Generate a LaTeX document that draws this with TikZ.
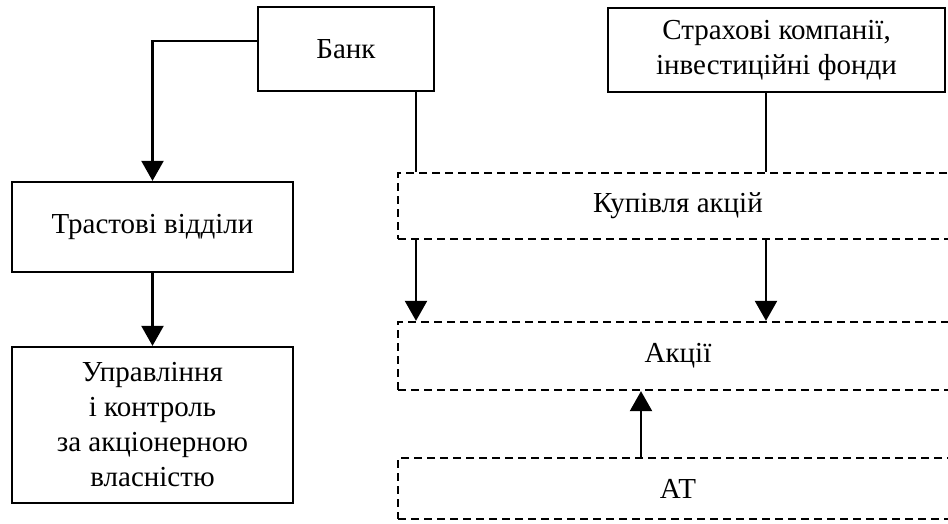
\documentclass[tikz,border=0pt]{standalone}
\usepackage{fontspec}
\setmainfont{Liberation Serif}
\usetikzlibrary{arrows.meta}
\begin{document}
\begin{tikzpicture}[x=1pt,y=-1pt,
  box/.style={draw, line width=2.3pt, rectangle, inner sep=0pt, align=center, font=\fontsize{29}{35}\selectfont},
  dbox/.style={box, dash pattern=on 8pt off 5pt},
  arr/.style={line width=2.3pt, -{Triangle[width=22pt,length=20pt]}},
  ln/.style={line width=2.3pt}]
\useasboundingbox (0,0) rectangle (948,523);
\node[box, minimum width=176pt, minimum height=84pt] (bank) at (346,49) {Банк};
\node[box, minimum width=337pt, minimum height=84pt] (ins) at (776.5,50) {Страхові компанії,\\інвестиційні фонди};
\node[box, minimum width=281pt, minimum height=90pt] (trust) at (152.5,227) {Трастові відділи};
\node[box, minimum width=281pt, minimum height=156pt] (upr) at (152.5,425) {Управління\\і контроль\\за акціонерною\\власністю};
\node[dbox, minimum width=560pt, minimum height=66pt] (kup) at (678,206) {Купівля акцій};
\node[dbox, minimum width=560pt, minimum height=68pt] (akc) at (678,356) {Акції};
\node[dbox, minimum width=560pt, minimum height=61pt] (at) at (678,488.5) {АТ};
\coordinate (xa) at (416,0);
\coordinate (xb) at (766,0);
\coordinate (xc) at (641,0);
\draw[arr] ([yshift=8pt]bank.west) -| (trust.north);
\draw[arr] (trust.south) -- (upr.north);
\draw[ln] (bank.south -| xa) -- (kup.north -| xa);
\draw[ln] (ins.south -| xb) -- (kup.north -| xb);
\draw[arr] (kup.south -| xa) -- (akc.north -| xa);
\draw[arr] (kup.south -| xb) -- (akc.north -| xb);
\draw[arr] (at.north -| xc) -- (akc.south -| xc);
\end{tikzpicture}
\end{document}
